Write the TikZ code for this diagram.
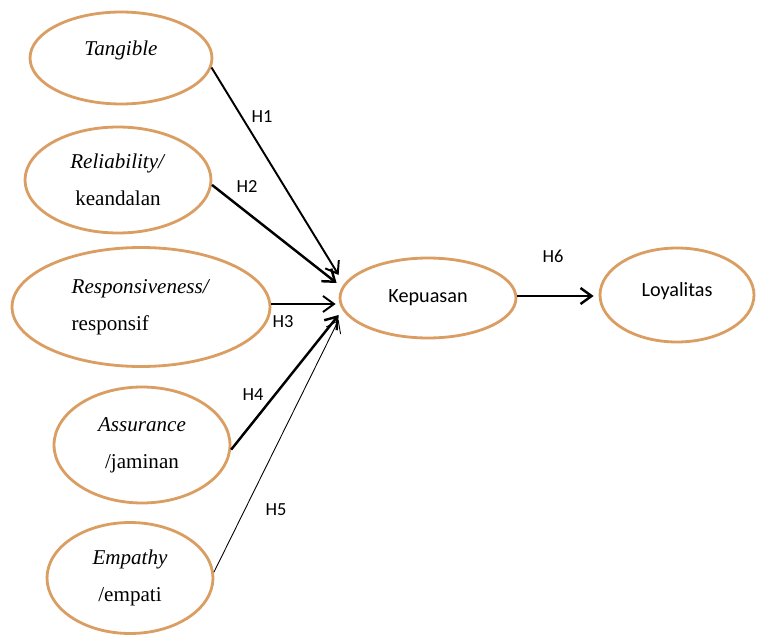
\documentclass[tikz,border=0pt]{standalone}
\usepackage{fontspec}
\setmainfont{Liberation Serif}
\newfontfamily\carlito{Carlito}
\usetikzlibrary{arrows.meta,shapes.geometric,calc}
\definecolor{ovalline}{RGB}{218,157,98}
\tikzset{
  varoval/.style={draw=ovalline, line width=1.6pt, ellipse, inner sep=0pt, align=center, font=\fontsize{12}{21}\selectfont},
  mainoval/.style={draw=ovalline, line width=1.6pt, ellipse, inner sep=0pt, align=center, font=\carlito\fontsize{11.5}{14}\selectfont},
  hyparrow/.style={-{Straight Barb[length=2.2mm,width=3.2mm]}, line width=1.1pt},
  hyplabel/.style={font=\carlito\fontsize{10.5}{12}\selectfont}
}

\begin{document}
\begin{tikzpicture}[x=0.02cm, y=-0.02cm]
\useasboundingbox (0,0) rectangle (757,635);
% service quality dimensions
\node[varoval, minimum width=3.64cm, minimum height=1.84cm] (tang) at (121,58) {\textit{Tangible}\\[-10pt]\mbox{}};
\node[varoval, minimum width=3.72cm, minimum height=2.12cm] (reli) at (118,180) {\textit{Reliability/}\\keandalan};
\node[varoval, align=left, minimum width=5.16cm, minimum height=2.38cm] (resp) at (141,307) {\textit{Responsiveness/}\\responsif};
\node[varoval, minimum width=3.52cm, minimum height=2.32cm] (assu) at (142,445) {\textit{Assurance}\\/jaminan};
\node[varoval, minimum width=3.32cm, minimum height=2.22cm] (empa) at (130,578) {\textit{Empathy}\\/empati};

% satisfaction and loyalty
\node[mainoval, minimum width=3.52cm, minimum height=1.6cm] (kepu) at (428,298) {Kepuasan};
\node[mainoval, minimum width=3.08cm, minimum height=1.88cm] (loya) at (677,295) {Loyalitas\\[-8pt]\mbox{}};

% hypotheses
\draw[hyparrow] (tang.-6) -- ($(kepu.west)+(0,-23)$);
\draw[hyparrow, line width=1.4pt] (reli.-3) -- ($(kepu.west)+(-2,-15)$);
\draw[hyparrow] ($(resp.east)+(0,-3)$) -- ($(kepu.west)+(-3,6)$);
\draw[hyparrow, line width=1.4pt] (assu.-3) -- ($(kepu.west)+(0,17)$);
\draw[hyparrow, line width=0.5pt] (empa.4) -- ($(kepu.west)+(0,22)$);
\draw[hyparrow, line width=1.4pt] ($(kepu.east)+(0,-2)$) -- ($(loya.west)+(-5,1)$);

\node[hyplabel] (h1) at (262,117) {H1};
\node[hyplabel] (h2) at (247,187) {H2};
\node[hyplabel] (h3) at (283,322) {H3};
\node[hyplabel] (h4) at (253,395) {H4};
\node[hyplabel] (h5) at (276,510) {H5};
\node[hyplabel] (h6) at (553,256) {H6};
\end{tikzpicture}
\end{document}
